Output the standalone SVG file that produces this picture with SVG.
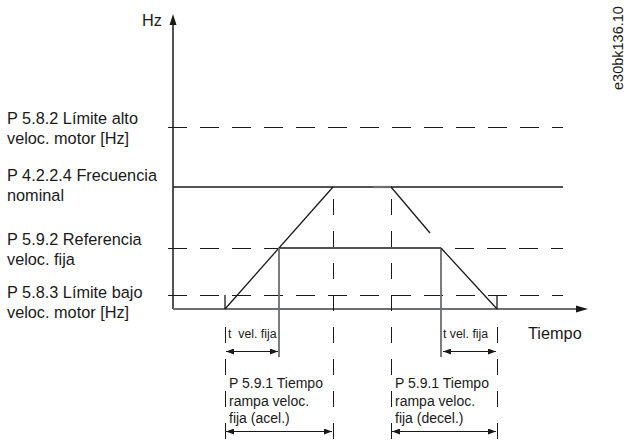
<svg xmlns="http://www.w3.org/2000/svg" width="633" height="442" viewBox="0 0 633 442">
  <style>
    .lbl { font-family: "Liberation Sans", Arial, sans-serif; fill: #1a1a1a; }
    .big { font-size: 16.3px; }
    .mid { font-size: 14px; }
    .sm { font-size: 12.3px; }
    .dashH { stroke: #1a1a1a; stroke-width: 1; stroke-dasharray: 19 13; fill: none; }
    .dashV { stroke: #1a1a1a; stroke-width: 1; stroke-dasharray: 16 16; fill: none; }
    .solid { stroke: #1a1a1a; stroke-width: 1.3; fill: none; }
    .gray { stroke: #6d6e71; stroke-width: 1.8; fill: none; }
    .dim { stroke: #1a1a1a; stroke-width: 1; fill: none; marker-start: url(#ah); marker-end: url(#ah); }
  </style>
  <defs>
    <marker id="ah" viewBox="0 0 8 6" refX="8" refY="3" markerWidth="8" markerHeight="6" markerUnits="userSpaceOnUse" orient="auto-start-reverse">
      <path d="M0,0 L8,3 L0,6 Z" fill="#1a1a1a"/>
    </marker>
  </defs>
  <rect width="633" height="442" fill="#ffffff"/>

  <g id="axes">
    <line x1="173" y1="22" x2="173" y2="309" stroke="#1a1a1a" stroke-width="1.5"/>
    <path d="M173,14 L176.5,25 L169.5,25 Z" fill="#1a1a1a"/>
    <line x1="173" y1="309" x2="578" y2="309" class="gray"/>
    <path d="M588,309 L576,305.5 L576,312.5 Z" fill="#1a1a1a"/>
    <text class="lbl big" x="142" y="26">Hz</text>
    <text class="lbl big" x="528" y="339">Tiempo</text>
  </g>

  <g id="levels">
    <line x1="168" y1="127.5" x2="563" y2="127.5" class="dashH"/>
    <line x1="173" y1="187" x2="563" y2="187" class="solid"/>
    <line x1="168" y1="248.5" x2="279" y2="248.5" class="dashH"/>
    <line x1="455" y1="248.5" x2="563" y2="248.5" class="dashH"/>
    <line x1="168" y1="295.5" x2="563" y2="295.5" class="dashH"/>
  </g>

  <g id="profile">
    <line x1="225" y1="309" x2="333" y2="187" class="solid"/>
    <line x1="279" y1="248" x2="441" y2="248" class="solid"/>
    <line x1="279" y1="248" x2="279" y2="357" class="gray"/>
    <line x1="441" y1="248" x2="441" y2="357" class="gray"/>
    <line x1="441" y1="248" x2="497" y2="309" class="solid"/>
    <line x1="373" y1="187" x2="391" y2="187" stroke="#6d6e71" stroke-width="2.2"/>
    <line x1="391" y1="187" x2="430" y2="233" class="solid"/>
  </g>

  <g id="markers">
    <line x1="333.5" y1="199" x2="333.5" y2="442" class="dashV"/>
    <line x1="391.5" y1="199" x2="391.5" y2="442" class="dashV"/>
    <line x1="225" y1="295" x2="225" y2="309" class="solid"/>
    <line x1="497" y1="295" x2="497" y2="309" class="solid"/>
    <line x1="225.5" y1="327" x2="225.5" y2="442" class="dashV"/>
    <line x1="497.5" y1="327" x2="497.5" y2="442" class="dashV"/>
  </g>

  <g id="connectors">
    <line x1="226" y1="351.5" x2="278" y2="351.5" class="dim"/>
    <line x1="443" y1="351.5" x2="496" y2="351.5" class="dim"/>
    <line x1="226" y1="431.5" x2="332" y2="431.5" class="dim"/>
    <line x1="392" y1="431.5" x2="496" y2="431.5" class="dim"/>
  </g>

  <g id="left-labels">
    <text class="lbl big" x="7" y="124">P 5.8.2 Límite alto</text>
    <text class="lbl big" x="7" y="144">veloc. motor [Hz]</text>
    <text class="lbl big" x="7" y="181">P 4.2.2.4 Frecuencia</text>
    <text class="lbl big" x="7" y="201">nominal</text>
    <text class="lbl big" x="7" y="245">P 5.9.2 Referencia</text>
    <text class="lbl big" x="7" y="265">veloc. fija</text>
    <text class="lbl big" x="7" y="298">P 5.8.3 Límite bajo</text>
    <text class="lbl big" x="7" y="318">veloc. motor [Hz]</text>
  </g>

  <g id="time-labels">
    <text class="lbl sm" x="228" y="338" xml:space="preserve">t  vel. fija</text>
    <text class="lbl sm" x="443" y="338">t vel. fija</text>
    <text class="lbl mid" x="229" y="388">P 5.9.1 Tiempo</text>
    <text class="lbl mid" x="229" y="406">rampa veloc.</text>
    <text class="lbl mid" x="229" y="423">fija (acel.)</text>
    <text class="lbl mid" x="395" y="388">P 5.9.1 Tiempo</text>
    <text class="lbl mid" x="395" y="406">rampa veloc.</text>
    <text class="lbl mid" x="395" y="423">fija (decel.)</text>
  </g>

  <g id="code">
    <text class="lbl" font-size="14.5" fill="#414042" transform="translate(623,90) rotate(-90)">e30bk136.10</text>
  </g>
</svg>
